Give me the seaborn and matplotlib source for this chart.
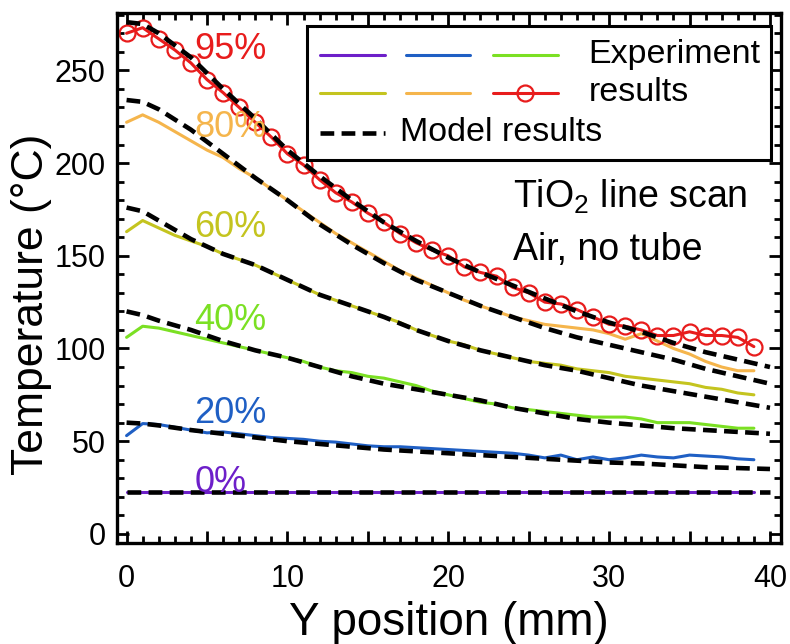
import matplotlib
matplotlib.use("Agg")
import matplotlib.pyplot as plt
from matplotlib.patches import Rectangle
from matplotlib.ticker import MultipleLocator, FuncFormatter
import pandas as pd
import seaborn as sns

# experiment: one reading per mm
exp_x = [0, 1, 2, 3, 4, 5, 6, 7, 8, 9, 10, 11, 12, 13, 14, 15, 16, 17, 18, 19,
         20, 21, 22, 23, 24, 25, 26, 27, 28, 29, 30, 31, 32, 33, 34, 35, 36, 37, 38, 39]
exp_0 = [22.5, 22.5, 22.5, 22.5, 22.5, 22.5, 22.5, 22.5, 22.5, 22.5,
         22.5, 22.5, 22.5, 22.5, 22.5, 22.5, 22.5, 22.5, 22.5, 22.5,
         22.5, 22.5, 22.5, 22.5, 22.5, 22.5, 22.5, 22.5, 22.5, 22.5,
         22.5, 22.5, 22.5, 22.5, 22.5, 22.5, 22.5, 22.5, 22.5, 22.5]
exp_20 = [53, 59.5, 59, 57.5, 56, 54.5, 55, 54, 53, 52, 51.5, 51, 50, 49.5, 48.5, 47.5, 47, 47, 46.5, 46,
          45.5, 45, 44.5, 44, 43.5, 42.5, 41, 42.5, 40, 41.5, 40, 41, 42.5, 41.5, 41, 42.5, 42, 41.5, 40.5, 40]
exp_40 = [106, 112, 111, 109, 107, 105, 103, 101, 99, 97, 95, 93, 90, 88, 87, 85, 84, 82, 80, 77,
          75, 73, 71, 70, 68, 67, 66, 65, 64, 63, 63, 63, 62, 60, 60, 60, 59, 58, 57, 57]
exp_60 = [163, 169, 165, 161, 158, 155, 151, 148, 145, 141, 137, 133, 129, 126, 123, 120, 117, 114, 110, 107,
          104, 102, 99, 97, 95, 93, 92, 91, 89, 88, 87, 85, 84, 83, 82, 81, 79, 78, 76, 75]
exp_80 = [222, 226, 222, 217, 212, 207, 203, 197, 192, 186, 180, 174, 168, 162, 157, 152, 147, 142, 138, 134,
          130, 126, 123, 120, 117, 115, 113, 112, 111, 110, 108, 105, 108, 104, 100, 97, 93, 90, 88, 88]
exp_95 = [270, 273, 267, 261, 254, 245, 238, 230, 222, 214, 205, 199, 191, 184, 179, 173, 168, 162, 157, 153,
          150, 144, 141, 139, 133, 130, 125, 124, 121, 117, 113, 112, 110, 107, 107, 109, 107, 107, 106, 101]

# model curves
model_x = [0, 1, 2, 4, 6, 8, 10, 12, 14, 16, 18, 20, 22, 24, 26, 28, 30, 32, 34, 36, 38, 40]
model_0 = [22.5, 22.5, 22.5, 22.5, 22.5, 22.5, 22.5, 22.5, 22.5, 22.5, 22.5,
           22.5, 22.5, 22.5, 22.5, 22.5, 22.5, 22.5, 22.5, 22.5, 22.5, 22.5]
model_20 = [60, 59.5, 58.5, 56, 54, 52, 50, 48.5, 47, 45.5, 44.5, 43.5, 42.5, 41.5, 40.5, 39.5, 38.5, 38, 37, 36, 35.5, 35]
model_40 = [120, 118, 115, 110, 104, 99, 95, 90, 85, 81, 78, 75, 72, 68, 65, 62, 60, 58.5, 57, 56, 55, 54]
model_60 = [176, 174, 169, 159, 151, 145, 137, 129, 123, 117, 110, 104, 99, 95, 91, 88, 84, 80, 77, 74, 71, 68]
model_80 = [234, 233, 229, 218, 205, 192, 180, 167, 156, 146, 137, 130, 123, 117, 111, 106, 102, 98, 94, 89, 85, 81]
model_95 = [276, 275, 270, 257, 240, 224, 207, 193, 180, 168, 158, 149, 141, 134, 127, 120, 114, 109, 103, 98, 94, 90]

levels = ["0%", "20%", "40%", "60%", "80%", "95%"]
colors = ["#6d1fc9", "#1f5fc4", "#7be023", "#c4c41f", "#f5b54c", "#e81c1c"]
label_y = [27.5, 65, 115, 165, 219, 261]

exp_df = pd.DataFrame({
    "Y": exp_x * 6,
    "T": exp_0 + exp_20 + exp_40 + exp_60 + exp_80 + exp_95,
    "level": [lv for lv in levels for _ in exp_x],
})
model_df = pd.DataFrame({
    "Y": model_x * 6,
    "T": model_0 + model_20 + model_40 + model_60 + model_80 + model_95,
    "level": [lv for lv in levels for _ in model_x],
})

sns.set_style("ticks", {"axes.edgecolor": "black", "xtick.color": "black",
                        "ytick.color": "black", "text.color": "black",
                        "axes.labelcolor": "black"})
plt.rcParams["font.family"] = ["Liberation Sans", "DejaVu Sans"]
plt.rcParams["mathtext.fontset"] = "custom"
plt.rcParams["mathtext.rm"] = "Liberation Sans"
plt.rcParams["mathtext.default"] = "regular"

fig = plt.figure(figsize=(7.9, 6.44), dpi=100)
ax = fig.add_axes([0.148, 0.157, 0.8405, 0.823])

palette = dict(zip(levels, colors))
sns.lineplot(data=exp_df[exp_df.level != "95%"], x="Y", y="T", hue="level",
             palette=palette, estimator=None, sort=False, lw=2.2, legend=False, ax=ax)
sns.lineplot(data=exp_df[exp_df.level == "95%"], x="Y", y="T", color=colors[5],
             estimator=None, sort=False, lw=2.2, marker="o", markersize=11.5,
             markerfacecolor="none", markeredgecolor=colors[5], markeredgewidth=1.6, ax=ax)
sns.lineplot(data=model_df, x="Y", y="T", units="level", estimator=None, sort=False,
             color="black", lw=3.3, ls=(0, (3, 1.6)), ax=ax, zorder=5)

for lv, c, yy in zip(levels, colors, label_y):
    ax.text(4.2, yy, lv, color=c, fontsize=26, ha="left", va="center", zorder=6)

ax.text(0.596, 0.653, "TiO$_2$ line scan", transform=ax.transAxes, fontsize=27,
        ha="left", va="center")
ax.text(0.596, 0.553, "Air, no tube", transform=ax.transAxes, fontsize=27,
        ha="left", va="center")

# legend box, drawn by hand to get the 3-column layout
lx0, ly0, lw_, lh_ = 0.2866, 0.7226, 0.6983, 0.2529
ax.add_patch(Rectangle((lx0, ly0), lw_, lh_, transform=ax.transAxes, facecolor="white",
                       edgecolor="black", lw=2.2, zorder=10))
cols = [(0.306, 0.404), (0.436, 0.532), (0.566, 0.664)]
rows = [0.921, 0.849]
for i, c in enumerate(colors):
    x0, x1 = cols[i % 3]
    yy = rows[i // 3]
    ax.plot([x0, x1], [yy, yy], color=c, lw=2.2, transform=ax.transAxes, zorder=11)
ax.plot([sum(cols[2]) / 2], [rows[1]], marker="o", markersize=11.5, markerfacecolor="none",
        markeredgecolor=colors[5], markeredgewidth=1.6, transform=ax.transAxes, zorder=11)
ax.plot([cols[0][0], cols[0][1]], [0.774, 0.774], color="black", lw=3.3, ls=(0, (3, 1.6)),
        transform=ax.transAxes, zorder=11)
ax.text(0.710, rows[0], "Experiment", fontsize=24.5, transform=ax.transAxes, va="center", zorder=12)
ax.text(0.710, rows[1], "results", fontsize=24.5, transform=ax.transAxes, va="center", zorder=12)
ax.text(0.427, 0.774, "Model results", fontsize=24.5, transform=ax.transAxes, va="center", zorder=12)

ax.set_xlim(-0.6, 40.68)
ax.set_ylim(-4.85, 281)
ax.xaxis.set_major_locator(MultipleLocator(5))
ax.xaxis.set_minor_locator(MultipleLocator(1))
ax.xaxis.set_major_formatter(FuncFormatter(lambda v, p: f"{v:.0f}" if v % 10 == 0 else ""))
ax.yaxis.set_major_locator(MultipleLocator(50))
ax.yaxis.set_minor_locator(MultipleLocator(10))
ax.tick_params(which="both", direction="in", top=True, right=True, width=2.0,
               labelsize=22, colors="black")
ax.tick_params(which="major", length=8.5)
ax.tick_params(which="minor", length=5)
ax.tick_params(axis="x", pad=15)
ax.tick_params(axis="y", pad=8)
for s in ax.spines.values():
    s.set_linewidth(2.4)
    s.set_color("black")

ax.set_xlabel("Y position (mm)", fontsize=33, labelpad=5)
ax.set_ylabel("Temperature (°C)", fontsize=32)
ax.yaxis.set_label_coords(-0.098, 0.45)

fig.savefig("out.png", dpi=100)
